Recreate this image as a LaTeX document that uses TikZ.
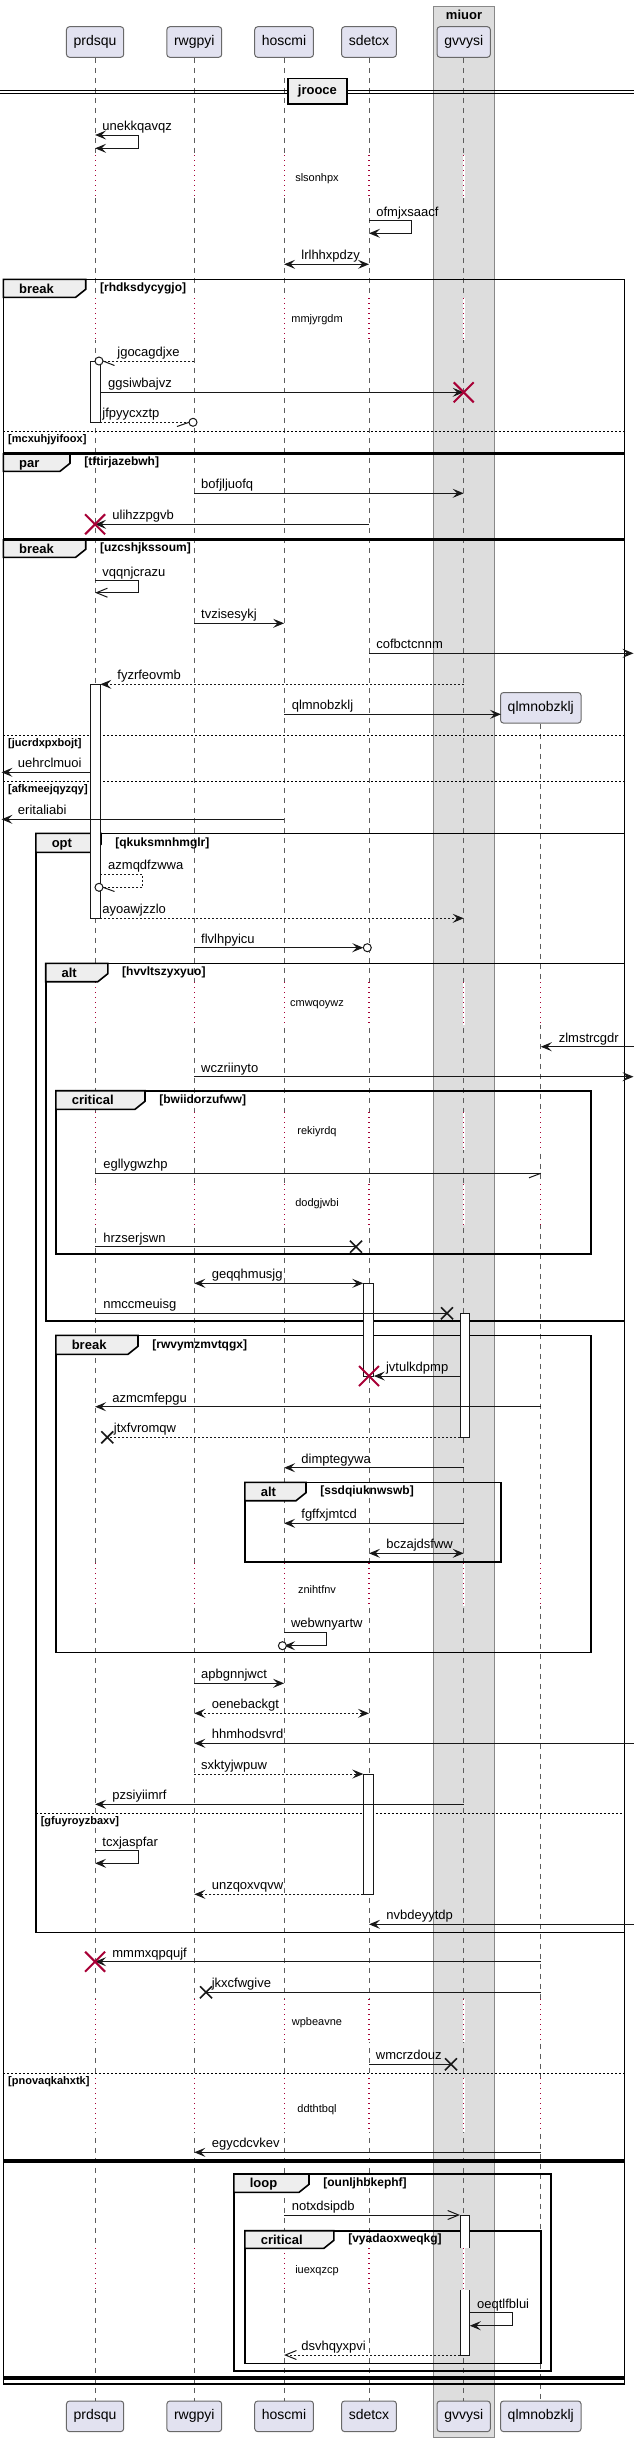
\documentclass[tikz,border=0pt]{standalone}
\usepackage{fontspec}
\setmainfont{Liberation Sans}
\usetikzlibrary{arrows.meta}
\definecolor{partfill}{HTML}{E2E2F0}
\definecolor{ink}{HTML}{181818}
\definecolor{boxfill}{HTML}{DDDDDD}
\definecolor{boxline}{HTML}{888888}
\definecolor{tabfill}{HTML}{EEEEEE}
\definecolor{delayred}{HTML}{A80036}

\def\xA{95.1}
\def\xB{194.3}
\def\xC{284.1}
\def\xD{369}
\def\xE{463.7}
\def\xF{540.8}

\newcommand\seqmsg[7]{%
  \coordinate (#1a) at (#2,#4);
  \coordinate (#1b) at (#3,#4);
  \draw[msgline,#5] (#1a) -- (#1b);
  \node[msglbl] (#1t) at (#6,{#4-4.5}) {#7};
}
\newcommand\seqself[8]{%
  \coordinate (#1a) at (#2,#4);
  \coordinate (#1c) at (#3,#4);
  \coordinate (#1d) at (#3,#5);
  \coordinate (#1b) at (#2,#5);
  \draw[msgline,#6] (#1a) -- (#1c) -- (#1d) -- (#1b);
  \node[msglbl] (#1t) at (#7,{#4-4.5}) {#8};
}
\newcommand\seqredx[2]{\draw[redcross] ({#1-10},{#2-10}) -- ({#1+10},{#2+10}) ({#1-10},{#2+10}) -- ({#1+10},{#2-10});}
\newcommand\seqblackx[2]{\draw[blackcross] ({#1-6},{#2-6}) -- ({#1+6},{#2+6}) ({#1-6},{#2+6}) -- ({#1+6},{#2-6});}
\newcommand\seqgroup[9]{%
  \draw[frameline] (#1,#2) rectangle (#3,#4);
  \draw[tabshape] (#1,#2) -- (#5,#2) -- (#5,{#6-8}) -- ({#5-10},#6) -- (#1,#6) -- cycle;
  \node[tablbl] (#9k) at ({#1+15.5},{(#2+#6)/2}) {#7};
  \node[condlbl] (#9c) at ({#5+14},{(#2+#6)/2}) {#8};
}
\newcommand\seqelse[5]{%
  \draw[elseline] (#1,#3) -- (#2,#3);
  \node[elselbl] (#5) at ({#1+4.5},{#3+8.3}) {#4};
}
\newcommand\seqdelay[6]{%
  \foreach \lx in {#6}{%
    \draw[delaywhite] (\lx,#1) -- (\lx,#2);
    \draw[delaydots] (\lx,#1) -- (\lx,#2);
  }
  \node[delaylbl] (#5) at (317,#3) {#4};
}

\begin{document}
\begin{tikzpicture}[x=0.5pt,y=-0.5pt,
  part/.style={draw=ink!65, line width=0.5pt, fill=partfill, rounded corners=1.5pt,
    minimum height=15.3pt, inner xsep=3.6pt, inner ysep=0pt,
    font=\fontsize{7pt}{8pt}\selectfont, text height=5.1pt, text depth=1.5pt},
  lifeline/.style={draw=ink!70, line width=0.4pt, dash pattern=on 2.5pt off 2.5pt},
  delaywhite/.style={draw=white, line width=1.2pt},
  delaydots/.style={draw=delayred, line width=0.6pt, dash pattern=on 0.6pt off 1.9pt},
  delaylbl/.style={inner sep=0pt, font=\fontsize{5.5pt}{6.5pt}\selectfont, text height=4pt, text depth=1.1pt},
  msgline/.style={draw=ink, line width=0.5pt},
  msglbl/.style={anchor=base west, inner sep=0pt, font=\fontsize{6.5pt}{7.5pt}\selectfont},
  frameline/.style={draw=black, line width=0.8pt},
  thinframe/.style={draw=black, line width=0.6pt},
  tabshape/.style={draw=black, line width=0.8pt, fill=tabfill},
  tablbl/.style={anchor=west, inner sep=0pt, font=\bfseries\fontsize{6.5pt}{7.5pt}\selectfont, text height=4.7pt, text depth=0pt},
  condlbl/.style={anchor=west, inner sep=0pt, font=\bfseries\fontsize{6pt}{7pt}\selectfont, text height=4.4pt, text depth=1.2pt},
  elseline/.style={draw=black, line width=0.5pt, dash pattern=on 1pt off 1pt},
  elselbl/.style={anchor=west, inner sep=0pt, font=\bfseries\fontsize{5.5pt}{6.5pt}\selectfont, text height=4pt, text depth=1.1pt},
  act/.style={draw=ink, fill=white, line width=0.5pt},
  redcross/.style={draw=delayred, line width=1pt},
  blackcross/.style={draw=ink, line width=0.8pt},
  endcircle/.style={draw=ink, fill=white, line width=0.5pt},
  sepline/.style={draw=black, line width=0.5pt},
  arr/.style={-{Stealth[length=5.5pt,width=4.5pt,inset=2.2pt]}},
  darr/.style={{Stealth[length=5.5pt,width=4.5pt,inset=2.2pt]}-{Stealth[length=5.5pt,width=4.5pt,inset=2.2pt]}},
  oarr/.style={-{Straight Barb[length=5.5pt,width=4.5pt]}},
  dsh/.style={dash pattern=on 1pt off 1pt}
]
\useasboundingbox (0,0) rectangle (634,2442);

% box miuor
\draw[fill=boxfill, draw=boxline, line width=0.5pt] (433.5,6) rectangle (494.7,2437.3);
\node[inner sep=0pt, font=\bfseries\fontsize{6.5pt}{7.5pt}\selectfont] (boxlbl) at (464,15) {miuor};

% participants
\node[part] (pA) at (\xA,42) {prdsqu};
\node[part] (pB) at (\xB,42) {rwgpyi};
\node[part] (pC) at (\xC,42) {hoscmi};
\node[part] (pD) at (\xD,42) {sdetcx};
\node[part] (pE) at (\xE,42) {gvvysi};
\node[part] (pA2) at (\xA,2416.3) {prdsqu};
\node[part] (pB2) at (\xB,2416.3) {rwgpyi};
\node[part] (pC2) at (\xC,2416.3) {hoscmi};
\node[part] (pD2) at (\xD,2416.3) {sdetcx};
\node[part] (pE2) at (\xE,2416.3) {gvvysi};
\node[part] (pF2) at (\xF,2416.3) {qlmnobzklj};
\node[part] (qc) at (\xF,707.8) {qlmnobzklj};

\draw[lifeline] (pA.south) -- (pA2.north);
\draw[lifeline] (pB.south) -- (pB2.north);
\draw[lifeline] (pC.south) -- (pC2.north);
\draw[lifeline] (pD.south) -- (pD2.north);
\draw[lifeline] (pE.south) -- (pE2.north);
\draw[lifeline] (qc.south) -- (pF2.north);

% separator
\draw[sepline] (0,90) -- (634,90);
\draw[sepline] (0,93.3) -- (634,93.3);
\node[draw=black, line width=0.8pt, fill=tabfill, minimum width=29.6pt, minimum height=12.85pt, inner sep=0pt,
  font=\bfseries\fontsize{6.5pt}{7.5pt}\selectfont] (sep) at (317.4,91.2) {jrooce};

% delays
\seqdelay{155}{198}{178.3}{slsonhpx}{d1}{\xA,\xB,\xC,\xD,\xE}
\seqdelay{298}{340}{319.3}{mmjyrgdm}{d2}{\xA,\xB,\xC,\xD,\xE}
\seqdelay{982}{1025}{1003.3}{cmwqoywz}{d3}{\xA,\xB,\xC,\xD,\xE,\xF}
\seqdelay{1112}{1150}{1131.7}{rekiyrdq}{d4}{\xA,\xB,\xC,\xD,\xE,\xF}
\seqdelay{1184}{1225}{1203.3}{dodgjwbi}{d5}{\xA,\xB,\xC,\xD,\xE,\xF}
\seqdelay{1563}{1606}{1591}{znihtfnv}{d6}{\xA,\xB,\xC,\xD,\xE,\xF}
\seqdelay{1999}{2042}{2022.3}{wpbeavne}{d7}{\xA,\xB,\xC,\xD,\xE,\xF}
\seqdelay{2078}{2132}{2110}{ddthtbql}{d8}{\xA,\xB,\xC,\xD,\xE,\xF}
\seqdelay{2248}{2290}{2270.7}{iuexqzcp}{d9}{\xA,\xB,\xC,\xD,\xE,\xF}

% groups
\seqgroup{3.3}{279.3}{624.5}{452.7}{85.7}{297.3}{break}{[rhdksdycygjo]}{g1}
\seqelse{3.3}{624.5}{431.7}{[mcxuhjyifoox]}{e1}
\seqgroup{3.3}{454}{624.5}{538.3}{70}{471.3}{par}{[tftirjazebwh]}{g2}
\seqgroup{3.3}{540}{624.5}{2160}{85.7}{557.3}{break}{[uzcshjkssoum]}{g3}
\seqelse{3.3}{624.5}{735.7}{[jucrdxpxbojt]}{e2}
\seqelse{3.3}{624.5}{781.7}{[afkmeejqyzqy]}{e3}
\seqelse{3.3}{624.5}{2073.3}{[pnovaqkahxtk]}{e4}
\seqgroup{35.9}{833.3}{624.5}{1932.3}{101}{852.3}{opt}{[qkuksmnhmglr]}{g4}
\seqelse{35.9}{624.5}{1813.3}{[gfuyroyzbaxv]}{e5}
\seqgroup{45.7}{963.3}{624.5}{1320.7}{107.8}{981.7}{alt}{[hvvltszyxyuo]}{g5}
\seqgroup{55.9}{1090.7}{591}{1254}{145}{1109.3}{critical}{[bwiidorzufww]}{g6}
\seqgroup{55.9}{1335.3}{591}{1652.3}{138}{1354.3}{break}{[rwvymzmvtqgx]}{g7}
\seqgroup{244.9}{1482.3}{501.2}{1561.7}{306}{1500.7}{alt}{[ssdqiuknwswb]}{g8}
\draw[frameline] (3.3,2161.7) rectangle (624.5,2376.7);
\draw[thinframe] (3.3,2379) rectangle (624.5,2384);
\seqgroup{233.9}{2174}{551}{2370.7}{309}{2192.3}{loop}{[ounljhbkephf]}{g9}
\seqgroup{244.9}{2230.7}{540.8}{2363.3}{333.9}{2248.3}{critical}{[vyadaoxweqkg]}{g10}

% activations
\draw[act] (90.2,361) rectangle (100.4,422.3);
\draw[act] (90.2,684.3) rectangle (100.4,918.3);
\draw[act] (363.3,1283.3) rectangle (373.9,1376);
\draw[act] (460,1313.3) rectangle (469.8,1437.3);
\draw[act] (363.3,1774) rectangle (373.9,1894.3);
\fill[white] (460,2215) rectangle (469.8,2248.3);
\draw[msgline] (460,2248.3) -- (460,2215) -- (469.8,2215) -- (469.8,2248.3);
\fill[white] (460,2290) rectangle (469.8,2355);
\draw[msgline] (460,2290) -- (460,2355) -- (469.8,2355) -- (469.8,2290);

% messages
\seqself{m1}{\xA}{138}{135}{148.3}{darr}{102}{unekkqavqz}
\seqself{m2}{\xD}{411.4}{220.7}{233.3}{arr}{376}{ofmjxsaacf}
\seqmsg{m3}{\xC}{\xD}{264.3}{darr}{301}{lrlhhxpdzy}
\seqmsg{m4}{\xB}{103}{361}{dsh}{117}{jgocagdjxe}
\draw[endcircle] (99,361) circle[radius=2pt];
\draw[msgline] (m4b) -- (114.5,365.5);
\seqmsg{m5}{100.4}{\xE}{392.3}{arr}{107.8}{ggsiwbajvz}
\seqredx{\xE}{392.3}
\seqmsg{m6}{100.4}{189}{422.3}{dsh}{102}{jfpyycxztp}
\draw[endcircle] (193,422.3) circle[radius=2pt];
\draw[msgline] (m6b) -- (177,426.5);
\seqmsg{m7}{\xB}{\xE}{493.3}{arr}{200.8}{bofjljuofq}
\seqmsg{m8}{\xD}{\xA}{524.3}{arr}{112}{ulihzzpgvb}
\seqredx{\xA}{524.3}
\seqself{m9}{\xA}{138}{580.7}{592.7}{oarr}{102}{vqqnjcrazu}
\seqmsg{m10}{\xB}{\xC}{623.3}{arr}{200.8}{tvzisesykj}
\seqmsg{m11}{\xD}{633.5}{653.3}{arr}{376}{cofbctcnnm}
\seqmsg{m12}{\xE}{100.4}{684.3}{arr,dsh}{117}{fyzrfeovmb}
\seqmsg{m13}{\xC}{501}{714.3}{arr}{291.4}{qlmnobzklj}
\seqmsg{m14}{90.2}{1.5}{772.3}{arr}{17.6}{uehrclmuoi}
\seqmsg{m15}{\xC}{1.5}{819.3}{arr}{17.6}{eritaliabi}
\coordinate (m16a) at (100.4,874.3);
\coordinate (m16c) at (142.9,874.3);
\coordinate (m16d) at (142.9,887.3);
\coordinate (m16b) at (103,887.3);
\draw[msgline,dsh] (m16a) -- (m16c) -- (m16d) -- (m16b);
\node[msglbl] (m16t) at (107.8,869.8) {azmqdfzwwa};
\draw[endcircle] (99,887.3) circle[radius=2pt];
\draw[msgline] (m16b) -- (114.5,891.5);
\seqmsg{m17}{100.4}{\xE}{918.3}{arr,dsh}{102}{ayoawjzzlo}
\seqmsg{m18}{\xB}{363.3}{947.7}{arr}{200.8}{flvlhpyicu}
\draw[endcircle] (367.3,947.7) circle[radius=2pt];
\seqmsg{m19}{633.5}{\xF}{1046.7}{arr}{558.4}{zlmstrcgdr}
\seqmsg{m20}{\xB}{633.5}{1076.7}{arr}{200.8}{wczriinyto}
\seqmsg{m21}{\xA}{\xF}{1173.3}{}{103}{egllygwzhp}
\draw[msgline] (m21b) -- (529,1177.8);
\seqmsg{m22}{\xA}{356}{1246.7}{}{103}{hrzserjswn}
\seqblackx{356}{1246.7}
\seqmsg{m23}{\xB}{363.3}{1283.3}{darr}{211.4}{geqqhmusjg}
\seqmsg{m24}{\xA}{447}{1313.3}{}{103}{nmccmeuisg}
\seqblackx{447}{1313.3}
\seqmsg{m25}{460}{373.9}{1376}{arr}{385.7}{jvtulkdpmp}
\seqredx{\xD}{1376}
\seqmsg{m26}{\xF}{\xA}{1406.7}{arr}{112}{azmcmfepgu}
\seqmsg{m27}{460}{107.3}{1437.3}{dsh}{113.5}{jtxfvromqw}
\seqblackx{107.3}{1437.3}
\seqmsg{m28}{\xE}{\xC}{1467.7}{arr}{301}{dimptegywa}
\seqmsg{m29}{\xE}{\xC}{1523.3}{arr}{301}{fgffxjmtcd}
\seqmsg{m30}{\xD}{\xE}{1553.3}{darr}{386}{bczajdsfww}
\seqself{m31}{\xC}{326.5}{1632.3}{1645.7}{arr}{290.6}{webwnyartw}
\draw[endcircle] (282.4,1645.7) circle[radius=2pt];
\seqmsg{m32}{\xB}{\xC}{1683.3}{arr}{200.8}{apbgnnjwct}
\seqmsg{m33}{\xB}{\xD}{1713.3}{darr,dsh}{211.4}{oenebackgt}
\seqmsg{m34}{633.5}{\xB}{1743.3}{arr}{211.4}{hhmhodsvrd}
\seqmsg{m35}{\xB}{363.3}{1774}{arr,dsh}{200.8}{sxktyjwpuw}
\seqmsg{m36}{\xE}{\xA}{1804.3}{arr}{112}{pzsiyiimrf}
\seqself{m37}{\xA}{138}{1850.7}{1863.3}{arr}{102}{tcxjaspfar}
\seqmsg{m38}{363.3}{\xB}{1894.3}{arr,dsh}{211.4}{unzqoxvqvw}
\seqmsg{m39}{633.5}{\xD}{1924.3}{arr}{386}{nvbdeyytdp}
\seqmsg{m40}{\xF}{\xA}{1961.7}{arr}{112}{mmmxqpqujf}
\seqredx{\xA}{1961.7}
\seqmsg{m41}{\xF}{206}{1992.3}{}{211.4}{jkxcfwgive}
\seqblackx{206}{1992.3}
\seqmsg{m42}{\xD}{451}{2064.3}{}{375.5}{wmcrzdouz}
\seqblackx{451}{2064.3}
\seqmsg{m43}{\xF}{\xB}{2152.3}{arr}{211.4}{egycdcvkev}
\seqmsg{m44}{\xC}{460}{2215}{oarr}{291.4}{notxdsipdb}
\seqself{m45}{469.8}{512.2}{2312.7}{2325.7}{arr}{476.7}{oeqtlfblui}
\seqmsg{m46}{460}{\xC}{2355}{oarr,dsh}{301}{dsvhqyxpvi}
\end{tikzpicture}
\end{document}
